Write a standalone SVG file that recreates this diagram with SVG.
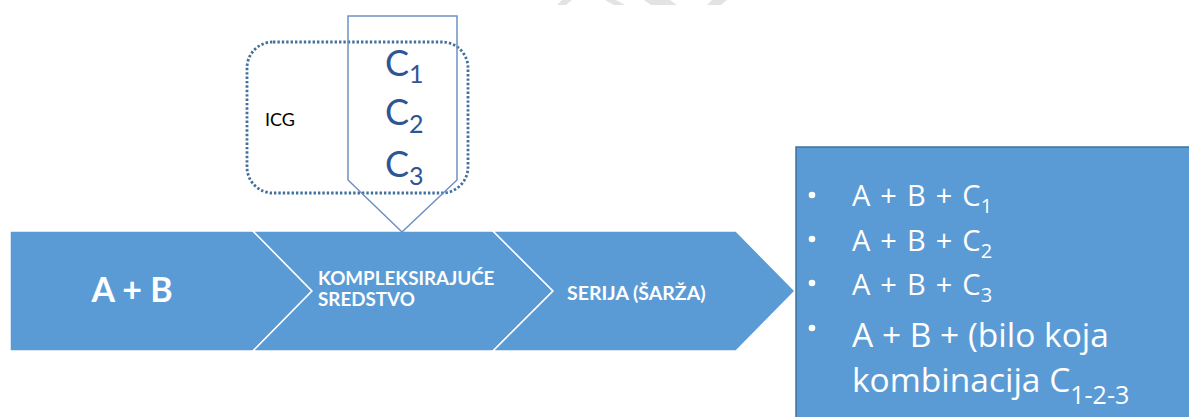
<svg xmlns="http://www.w3.org/2000/svg" width="1189" height="417" viewBox="0 0 1189 417">
  <style>
    .step { fill: #5B9BD5; stroke: #FFFFFF; stroke-width: 1.5; stroke-linejoin: miter; }
    .lbl { font-family: Lato, "Open Sans", sans-serif; fill: #FFFFFF; font-weight: 700; }
    .cee { font-family: Lato, "Open Sans", sans-serif; fill: #2F5597; font-size: 36px; }
    .cee tspan { font-size: 25px; }
    .item { font-family: "Open Sans", Lato, sans-serif; fill: #FFFFFF; font-size: 29px; word-spacing: 2.5px; }
    .item.big { font-size: 33.5px; word-spacing: 0; }
    .sub { font-size: 20px; }
    .dot { fill: #FFFFFF; }
    .wm { fill: #E3E3E3; }
  </style>

  <rect width="1189" height="417" fill="#FFFFFF"/>

  <!-- faint marks along the top edge -->
  <g id="top-marks">
    <polygon class="wm" points="562,0 572,0 566,5 557,5"/>
    <polygon class="wm" points="605,0 616,0 625,5 614,5"/>
    <polygon class="wm" points="644,0 670,0 677,5 651,5"/>
    <polygon class="wm" points="712,0 727,0 721,5 707,5"/>
  </g>

  <!-- process band: three chevron steps -->
  <g id="step-ab">
    <polygon class="step" points="10,231 253,231 312,291 253,351 10,351"/>
    <text class="lbl" x="132" y="302" font-size="34" text-anchor="middle">A + B</text>
  </g>
  <g id="step-kompleks">
    <polygon class="step" points="253,231 493,231 553,291 493,351 253,351 312,291"/>
    <text class="lbl" x="318" y="285" font-size="18.8">KOMPLEKSIRAJUĆE</text>
    <text class="lbl" x="318" y="306" font-size="18.8">SREDSTVO</text>
  </g>
  <g id="step-serija">
    <polygon class="step" points="493,231 736,231 795,291 736,351 493,351 553,291"/>
    <text class="lbl" x="567" y="300" font-size="19.5">SERIJA (ŠARŽA)</text>
  </g>

  <!-- ICG group outline -->
  <g id="icg">
    <rect x="247" y="42" width="221" height="151" rx="26" ry="26" fill="none" stroke="#41719C" stroke-width="2.8" stroke-dasharray="2.4 2"/>
    <text x="265" y="126" font-family="Lato, 'Open Sans', sans-serif" font-size="18" fill="#000000">ICG</text>
  </g>

  <!-- complexing agent callout pointing down into the band -->
  <g id="agents">
    <polygon points="348,16 457,16 457,180 402,232 348,180" fill="none" stroke="#6E90C2" stroke-width="1.5"/>
    <text class="cee" x="385" y="76">C<tspan dy="7">1</tspan></text>
    <text class="cee" x="385" y="125">C<tspan dy="8">2</tspan></text>
    <text class="cee" x="385" y="177">C<tspan dy="8">3</tspan></text>
  </g>

  <!-- results panel -->
  <g id="results">
    <rect x="796" y="147" width="400" height="280" fill="#5B9BD5" stroke="#41719C" stroke-width="1.5"/>
    <circle class="dot" cx="812" cy="195" r="3.3"/>
    <circle class="dot" cx="812" cy="239" r="3.3"/>
    <circle class="dot" cx="812" cy="283" r="3.3"/>
    <circle class="dot" cx="812" cy="328" r="3.3"/>
    <text class="item" x="852" y="206">A + B + C<tspan class="sub" dy="7">1</tspan></text>
    <text class="item" x="852" y="251">A + B + C<tspan class="sub" dy="7">2</tspan></text>
    <text class="item" x="852" y="295">A + B + C<tspan class="sub" dy="7">3</tspan></text>
    <text class="item big" x="852" y="347">A + B + (bilo koja</text>
    <text class="item big" x="852" y="392">kombinacija C<tspan font-size="25" dy="12">1-2-3</tspan></text>
  </g>
</svg>
